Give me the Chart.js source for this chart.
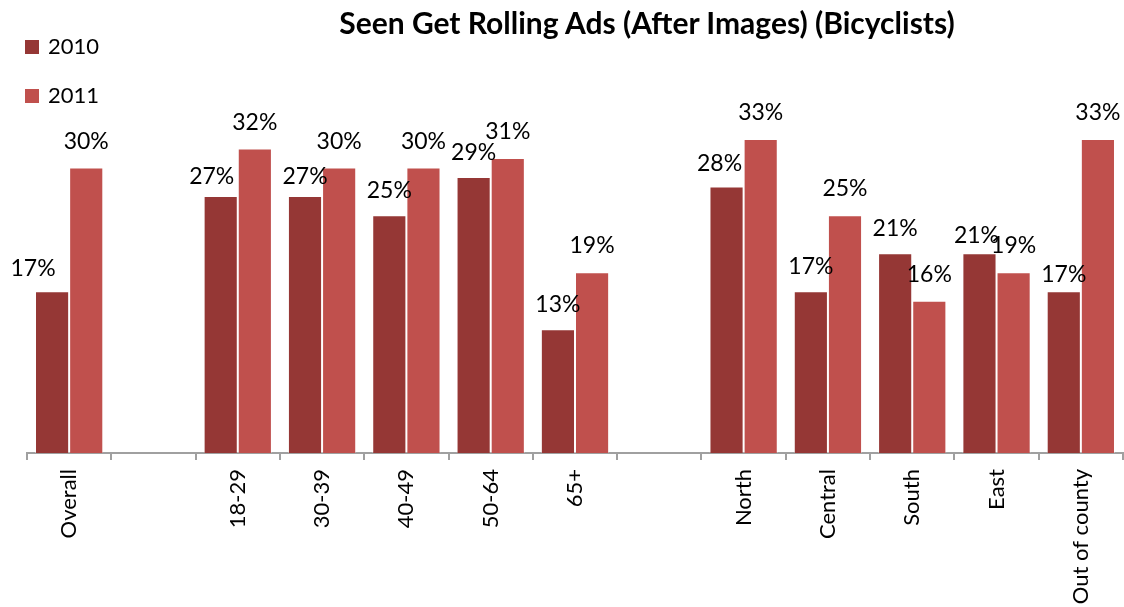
<!DOCTYPE html>
<html>
<head>
<meta charset="utf-8">
<title>Seen Get Rolling Ads (After Images) (Bicyclists)</title>
<script src="https://cdn.jsdelivr.net/npm/chart.js@4.4.1/dist/chart.umd.min.js"></script>
<style>
    body { margin: 0; background: #fff; }
    #wrap { position: relative; width: 1124px; height: 607px; font-family: Lato, sans-serif; }
    #chartTitle {
        position: absolute; left: 647px; top: 7px; transform: translateX(-50%);
        font-size: 30px; font-weight: bold; line-height: 1; white-space: nowrap; color: #000;
    }
    .legend-item { position: absolute; left: 25px; font-size: 22px; line-height: 1; color: #000; }
    .legend-item span { position: absolute; left: 0; width: 14px; height: 14px; }
    .legend-item b { position: absolute; left: 23px; top: 0; font-weight: normal; }
</style>
</head>
<body>
<div id="wrap">
    <canvas id="adsChart" width="1124" height="607"></canvas>
    <div id="chartTitle">Seen Get Rolling Ads (After Images) (Bicyclists)</div>
    <div id="legend"></div>
</div>
<script>
// categories (blank entries are the spacer columns between groups)
const categories = ['Overall', '', '18-29', '30-39', '40-49', '50-64', '65+', '', 'North', 'Central', 'South', 'East', 'Out of county'];
const seriesNames = ['2010', '2011'];
const values2010 = [17, null, 27, 27, 25, 29, 13, null, 28, 17, 21, 21, 17];
const values2011 = [30, null, 32, 30, 30, 31, 19, null, 33, 25, 16, 19, 33];

const colors = ['#953735', '#C0504D'];

// small hand nudges for a few value labels [dx, dy]
const labelNudge2010 = [[-19, 2], null, [-9, 5], [0, 5], [0, 0], [0, 0], [0, 0], null, [-7, 1], [0, 0], [0, 0], [-3, 7], [0, 8]];

// legend
const legendBox = document.getElementById('legend');
seriesNames.forEach(function (name, i) {
    const item = document.createElement('div');
    item.className = 'legend-item';
    item.style.top = (35 + i * 49) + 'px';
    item.innerHTML = '<span style="background:' + colors[i] + ';top:5px"></span><b>' + name + '</b>';
    legendBox.appendChild(item);
});

// value labels above the bars
const valueLabels = {
    id: 'valueLabels',
    afterDatasetsDraw(chart) {
        const ctx = chart.ctx;
        ctx.save();
        ctx.font = '23px Lato';
        ctx.fillStyle = '#000';
        ctx.textAlign = 'center';
        ctx.textBaseline = 'alphabetic';
        chart.data.datasets.forEach(function (ds, di) {
            const meta = chart.getDatasetMeta(di);
            meta.data.forEach(function (bar, i) {
                const v = ds.data[i];
                if (v === null) return;
                let dx = 0, dy = 0;
                if (di === 0 && labelNudge2010[i]) {
                    dx = labelNudge2010[i][0];
                    dy = labelNudge2010[i][1];
                }
                const lift = di === 0 ? 25 : 27;
                ctx.fillText(v + '%', bar.x + dx, bar.y - lift + 8 + dy);
            });
        });
        ctx.restore();
    }
};

new Chart(document.getElementById('adsChart'), {
    type: 'bar',
    data: {
        labels: categories,
        datasets: [
            {
                label: seriesNames[0],
                data: values2010,
                backgroundColor: colors[0],
                borderColor: 'rgba(255,255,255,0.35)',
                borderWidth: 1
            },
            {
                label: seriesNames[1],
                data: values2011,
                backgroundColor: colors[1],
                borderColor: 'rgba(255,255,255,0.35)',
                borderWidth: 1
            }
        ]
    },
    options: {
        responsive: false,
        animation: false,
        events: [],
        layout: {
            padding: { top: 120, left: 27, right: 1, bottom: 0 }
        },
        plugins: {
            legend: { display: false },
            title: { display: false },
            tooltip: { enabled: false }
        },
        datasets: {
            bar: { categoryPercentage: 0.81, barPercentage: 1.0 }
        },
        scales: {
            y: {
                display: false,
                min: 0,
                max: 35
            },
            x: {
                afterFit: function (scale) { scale.height = 154; },
                border: { display: true, color: '#a0a0a0', width: 2 },
                grid: {
                    offset: true,
                    drawOnChartArea: false,
                    drawTicks: true,
                    tickLength: 7,
                    color: '#a0a0a0',
                    lineWidth: 2
                },
                ticks: {
                    autoSkip: false,
                    minRotation: 90,
                    maxRotation: 90,
                    padding: 9,
                    color: '#000',
                    font: { family: 'Lato', size: 22 }
                }
            }
        }
    },
    plugins: [valueLabels]
});
</script>
</body>
</html>
